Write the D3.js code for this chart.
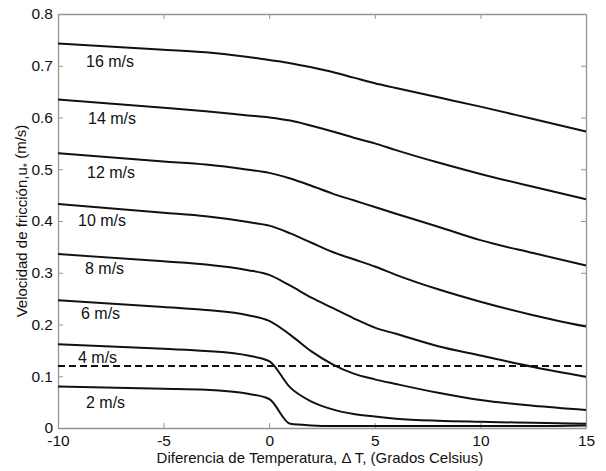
<!DOCTYPE html>
<html>
<head>
<meta charset="utf-8">
<script src="https://cdn.jsdelivr.net/npm/d3@7"></script>
<style>
  body { margin: 0; background: #fff; }
  svg { display: block; }
</style>
</head>
<body>
<div id="chart"></div>
<script>
// Data
//-----------
var deltaT = [-10, -5, -3, -1, 0, 1, 2, 3, 4, 5, 6, 8, 10, 12.5, 15];

var u16 = [0.743, 0.731, 0.726, 0.717, 0.711, 0.705, 0.697, 0.688, 0.677, 0.666, 0.657, 0.639, 0.621, 0.597, 0.573];
var u14 = [0.635, 0.619, 0.612, 0.604, 0.600, 0.594, 0.584, 0.573, 0.561, 0.550, 0.537, 0.513, 0.491, 0.466, 0.442];
var u12 = [0.531, 0.515, 0.509, 0.499, 0.493, 0.482, 0.468, 0.453, 0.440, 0.427, 0.414, 0.389, 0.363, 0.338, 0.314];
var u10 = [0.433, 0.416, 0.409, 0.398, 0.391, 0.376, 0.358, 0.340, 0.326, 0.312, 0.296, 0.268, 0.244, 0.218, 0.196];
var u8  = [0.336, 0.322, 0.316, 0.305, 0.296, 0.275, 0.252, 0.232, 0.212, 0.194, 0.182, 0.158, 0.140, 0.118, 0.099];
var u6  = [0.247, 0.234, 0.228, 0.218, 0.207, 0.180, 0.148, 0.123, 0.105, 0.094, 0.085, 0.068, 0.054, 0.043, 0.035];
var u4  = [0.162, 0.153, 0.149, 0.140, 0.129, 0.078, 0.051, 0.036, 0.027, 0.022, 0.018, 0.014, 0.012, 0.010, 0.008];
var u2  = [0.080, 0.076, 0.074, 0.066, 0.056, 0.008, 0.005, 0.004, 0.004, 0.004, 0.004, 0.004, 0.004, 0.004, 0.005];

var seriesNames = ["16 m/s", "14 m/s", "12 m/s", "10 m/s", "8 m/s", "6 m/s", "4 m/s", "2 m/s"];
var seriesValues = [u16, u14, u12, u10, u8, u6, u4, u2];

var threshold = 0.12;

var xTicks = [-10, -5, 0, 5, 10, 15];
var yTicks = [0, 0.1, 0.2, 0.3, 0.4, 0.5, 0.6, 0.7, 0.8];

// Visualization attributes
//-----------
var W = 606, H = 471;
var margin = {top: 14, right: 20, bottom: 43, left: 58};
var w = W - margin.left - margin.right;
var h = H - margin.top - margin.bottom;
var font = "'Liberation Sans', Arial, Helvetica, sans-serif";
var axisGray = "#959595";

// label placement (pixel offset from the first point of each curve)
var labelOffset = [[28, 18], [30, 19], [29, 19], [20, 16], [27, 14], [23, 13], [20, 13], [28, 16]];

// Scales
//-----------
var xScale = d3.scaleLinear([-10, 15], [0, w]);
var yScale = d3.scaleLinear([0, 0.8], [h, 0]);

// SVG
//-----------
var svg = d3.select("#chart")
  .append("svg")
  .attr("width", W)
  .attr("height", H);

var g = svg.append("g")
  .attr("transform", "translate(" + margin.left + "," + margin.top + ")");

// Axes
//-----------
var xAxis = g.append("g")
  .attr("transform", "translate(0," + h + ")")
  .call(d3.axisBottom(xScale).tickValues(xTicks).tickSizeInner(-5).tickSizeOuter(0).tickPadding(7)
    .tickFormat(function(d) { return String(d); }));

var xTop = g.append("g")
  .call(d3.axisTop(xScale).tickValues(xTicks).tickSizeInner(-5).tickSizeOuter(0).tickFormat(""));

var yAxis = g.append("g")
  .call(d3.axisLeft(yScale).tickValues(yTicks).tickSizeInner(-5).tickSizeOuter(0).tickPadding(5)
    .tickFormat(function(d) { return d === 0 ? "0" : d3.format(".1f")(d); }));

var yRight = g.append("g")
  .attr("transform", "translate(" + w + ",0)")
  .call(d3.axisRight(yScale).tickValues(yTicks).tickSizeInner(-5).tickSizeOuter(0).tickFormat(""));

g.selectAll(".domain").attr("stroke", axisGray).attr("stroke-width", 1.3);
g.selectAll(".tick line").attr("stroke", axisGray);
g.selectAll(".tick text")
  .attr("fill", "#111")
  .attr("font-family", font)
  .attr("font-size", "15.5px");

// Curves
//-----------
var line = d3.line()
  .x(function(d, i) { return xScale(deltaT[i]); })
  .y(function(d) { return yScale(d); })
  .curve(d3.curveMonotoneX);

g.selectAll(".curve")
  .data(seriesValues)
  .enter()
  .append("path")
  .attr("class", "curve")
  .attr("d", line)
  .attr("fill", "none")
  .attr("stroke", "#111")
  .attr("stroke-width", 2);

// Threshold line
g.append("line")
  .attr("x1", xScale(-10))
  .attr("x2", xScale(15))
  .attr("y1", yScale(threshold))
  .attr("y2", yScale(threshold))
  .attr("stroke", "#111")
  .attr("stroke-width", 2)
  .attr("stroke-dasharray", "7,4");

// Labels
//-----------
g.selectAll(".lbl")
  .data(seriesNames)
  .enter()
  .append("text")
  .attr("class", "lbl")
  .text(function(d) { return d; })
  .attr("x", function(d, i) { return xScale(deltaT[0]) + labelOffset[i][0]; })
  .attr("y", function(d, i) { return yScale(seriesValues[i][0]) + labelOffset[i][1]; })
  .attr("dy", "0.35em")
  .attr("font-family", font)
  .attr("font-size", "16px")
  .attr("fill", "#111");

// Axis titles
//-----------
svg.append("text")
  .text("Diferencia de Temperatura, \u0394 T, (Grados Celsius)")
  .attr("text-anchor", "middle")
  .attr("x", margin.left + xScale(2.4))
  .attr("y", 463)
  .attr("font-family", font)
  .attr("font-size", "15px")
  .attr("fill", "#111");

var ytitle = svg.append("text")
  .attr("text-anchor", "middle")
  .attr("transform", "translate(27," + (margin.top + h / 2) + ") rotate(-90)")
  .attr("font-family", font)
  .attr("font-size", "15px")
  .attr("fill", "#111");
ytitle.append("tspan").text("Velocidad de fricción,u");
ytitle.append("tspan").text("*").attr("dy", "0.35em").attr("font-size", "11px");
ytitle.append("tspan").text(" (m/s)").attr("dy", "-0.3em");
</script>
</body>
</html>
